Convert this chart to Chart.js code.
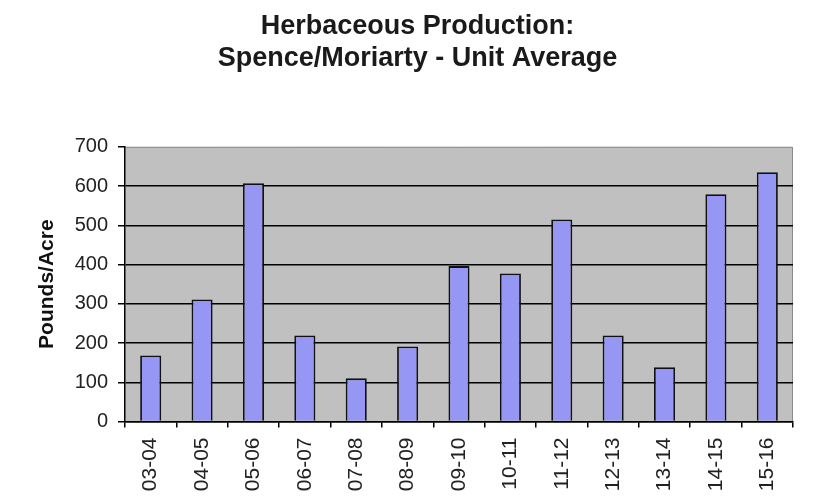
<!DOCTYPE html>
<html>
<head>
<meta charset="utf-8">
<script src="https://cdn.jsdelivr.net/npm/chart.js@4/dist/chart.umd.min.js"></script>
<style>
  html, body { margin: 0; padding: 0; background: #ffffff; }
  #wrap { width: 835px; height: 497px; }
</style>
</head>
<body>
<div id="wrap"><canvas id="c" width="835" height="497"></canvas></div>
<script>
const categories = ["03-04","04-05","05-06","06-07","07-08","08-09","09-10","10-11","11-12","12-13","13-14","14-15","15-16"];
const poundsPerAcre = [168, 311, 607, 219, 110, 191, 396, 377, 515, 219, 138, 579, 635];
const titleLines = ["Herbaceous Production:", "Spence/Moriarty - Unit Average"];
const yAxisTitle = "Pounds/Acre";
const yMin = 0, yMax = 700, yStep = 100;

const plotBackground = {
  id: 'plotBackground',
  beforeDraw(chart) {
    const {ctx, chartArea: a} = chart;
    ctx.save();
    ctx.fillStyle = '#c0c0c0';
    ctx.fillRect(a.left, a.top, a.right - a.left, a.bottom - a.top);
    ctx.strokeStyle = '#8a8a8a';
    ctx.lineWidth = 1;
    ctx.beginPath();
    ctx.moveTo(a.left, a.top + 0.5);
    ctx.lineTo(a.right - 0.5, a.top + 0.5);
    ctx.lineTo(a.right - 0.5, a.bottom);
    ctx.stroke();
    ctx.restore();
  }
};

new Chart(document.getElementById('c'), {
  type: 'bar',
  data: {
    labels: categories,
    datasets: [{
      data: poundsPerAcre,
      backgroundColor: '#9696f4',
      borderColor: '#111111',
      borderWidth: 1.8,
      categoryPercentage: 1.0,
      barPercentage: 0.41
    }]
  },
  options: {
    responsive: false,
    animation: false,
    devicePixelRatio: 1,
    layout: { padding: { left: 21, right: 21, top: 0, bottom: 0 } },
    plugins: {
      legend: { display: false },
      tooltip: { enabled: false },
      title: {
        display: true,
        text: titleLines,
        color: '#1a1a1a',
        font: { family: '"Liberation Sans", Arial, sans-serif', size: 27, weight: 'bold', lineHeight: 1.2 },
        padding: { top: 10, bottom: 72 }
      }
    },
    scales: {
      x: {
        grid: {
          display: true,
          drawOnChartArea: false,
          drawTicks: true,
          tickLength: 6,
          color: '#000000',
          lineWidth: 1.5,
          offset: true
        },
        border: { display: true, color: '#000000', width: 1.5 },
        ticks: {
          minRotation: 90,
          maxRotation: 90,
          autoSkip: false,
          padding: 10,
          color: '#222222',
          font: { family: '"Liberation Sans", Arial, sans-serif', size: 21 }
        },
        afterFit(scale) { scale.height = 75.5; }
      },
      y: {
        min: yMin,
        max: yMax,
        grid: {
          color: (ctx) => (ctx.tick && ctx.tick.value === yMax) ? 'rgba(0,0,0,0)' : '#000000',
          tickColor: '#000000',
          lineWidth: 1.5,
          tickLength: 7,
          drawTicks: true
        },
        border: { display: true, color: '#000000', width: 1.5 },
        ticks: {
          stepSize: yStep,
          padding: 10,
          color: '#222222',
          font: { family: '"Liberation Sans", Arial, sans-serif', size: 20 }
        },
        title: {
          display: true,
          text: yAxisTitle,
          color: '#111111',
          font: { family: '"Liberation Sans", Arial, sans-serif', size: 21, weight: 'bold', lineHeight: 1.2 },
          padding: { top: 14, bottom: 0 }
        },
        afterFit(scale) { scale.width = 104; }
      },
      yRightSpacer: {
        position: 'right',
        display: true,
        min: yMin,
        max: yMax,
        grid: { display: false, drawTicks: false },
        border: { display: false },
        ticks: { display: false },
        afterFit(scale) { scale.width = 21; }
      }
    }
  },
  plugins: [plotBackground]
});
</script>
</body>
</html>
